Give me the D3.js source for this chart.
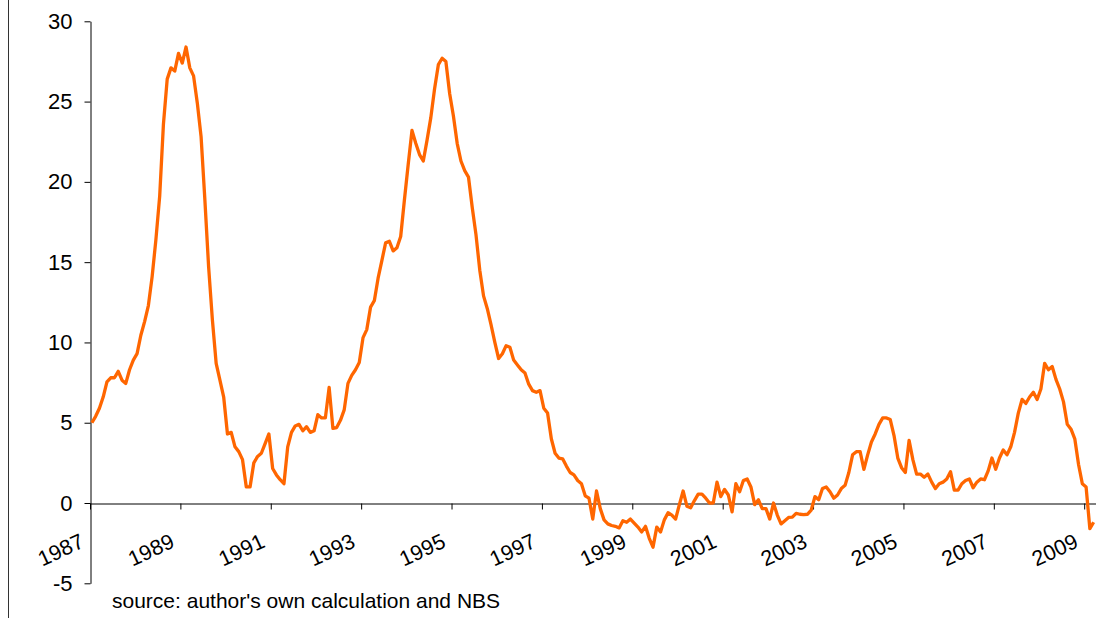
<!DOCTYPE html>
<html>
<head>
<meta charset="utf-8">
<script src="https://cdn.jsdelivr.net/npm/d3@7"></script>
<style>
    body { margin: 0; background: #fff; }
    svg { display: block; font-family: "Liberation Sans", Arial, sans-serif; }
</style>
</head>
<body>
<svg id="chart" width="1103" height="618"></svg>
<script>
// Monthly inflation (%), Jan 1987 - Mar 2009
var StartYear = 1987;
var Inflation = [
    5.0, 5.4, 5.9, 6.6, 7.55, 7.8, 7.8, 8.2, 7.65, 7.45, 8.3, 8.9,          // 1987
    9.3, 10.45, 11.3, 12.3, 14.1, 16.4, 19.1, 23.6, 26.4, 27.1, 26.9, 28.0, // 1988
    27.4, 28.4, 27.1, 26.6, 24.9, 22.8, 18.9, 14.7, 11.4, 8.7, 7.65, 6.6,   // 1989
    4.3, 4.4, 3.5, 3.2, 2.7, 1.0, 1.0, 2.5, 2.9, 3.1, 3.7, 4.3,             // 1990
    2.15, 1.75, 1.45, 1.2, 3.5, 4.4, 4.8, 4.9, 4.5, 4.75, 4.4, 4.5,         // 1991
    5.5, 5.3, 5.3, 7.2, 4.65, 4.7, 5.15, 5.8, 7.45, 7.95, 8.3, 8.75,        // 1992
    10.3, 10.8, 12.2, 12.6, 14.0, 15.1, 16.2, 16.3, 15.7, 15.9, 16.6, 18.9, // 1993
    21.1, 23.2, 22.4, 21.7, 21.3, 22.6, 24.0, 25.8, 27.3, 27.7, 27.5, 25.5, // 1994
    24.1, 22.4, 21.3, 20.7, 20.3, 18.4, 16.7, 14.5, 12.9, 12.1, 11.1, 10.0, // 1995
    9.0, 9.3, 9.8, 9.7, 8.9, 8.6, 8.3, 8.1, 7.4, 7.0, 6.9, 7.0,             // 1996
    5.9, 5.6, 4.0, 3.1, 2.8, 2.75, 2.3, 1.9, 1.75, 1.4, 1.2, 0.45,          // 1997
    0.3, -1.0, 0.75, -0.35, -1.05, -1.3, -1.4, -1.45, -1.55, -1.1, -1.2, -1.0,  // 1998
    -1.25, -1.5, -1.8, -1.45, -2.2, -2.75, -1.5, -1.8, -1.05, -0.6, -0.75, -1.0, // 1999
    -0.1, 0.75, -0.2, -0.3, 0.15, 0.55, 0.55, 0.3, 0.0, 0.0, 1.3, 0.4,      // 2000
    0.85, 0.5, -0.55, 1.2, 0.7, 1.4, 1.5, 1.0, -0.1, 0.2, -0.35, -0.35,     // 2001
    -1.0, 0.0, -0.75, -1.3, -1.1, -0.9, -0.88, -0.64, -0.7, -0.72, -0.7, -0.45, // 2002
    0.4, 0.2, 0.9, 1.0, 0.7, 0.3, 0.5, 0.9, 1.1, 1.9, 3.0, 3.2,             // 2003
    3.2, 2.1, 3.0, 3.8, 4.3, 4.9, 5.3, 5.3, 5.2, 4.2, 2.8, 2.2,             // 2004
    1.9, 3.9, 2.7, 1.8, 1.8, 1.6, 1.8, 1.3, 0.9, 1.2, 1.3, 1.5,             // 2005
    1.95, 0.8, 0.8, 1.2, 1.4, 1.5, 0.95, 1.3, 1.5, 1.45, 2.0, 2.8,          // 2006
    2.1, 2.8, 3.3, 3.0, 3.5, 4.4, 5.6, 6.45, 6.2, 6.6, 6.9, 6.45,           // 2007
    7.1, 8.7, 8.3, 8.5, 7.7, 7.1, 6.3, 4.9, 4.6, 4.0, 2.4, 1.2,             // 2008
    1.0, -1.6, -1.2                                                         // 2009
];
var YearLabels = ["1987", "1989", "1991", "1993", "1995", "1997", "1999", "2001", "2003", "2005", "2007", "2009"];
var YTicks = [-5, 0, 5, 10, 15, 20, 25, 30];
var SourceNote = "source: author's own calculation and NBS";

var SVG = d3.select("#chart");
// Left border of the frame
SVG.append("line")
    .attr("x1", 8.5).attr("x2", 8.5)
    .attr("y1", 0).attr("y2", 618)
    .attr("stroke", "#333").attr("stroke-width", 1);

// Scales: each month is one category, ticks sit between categories
var X = d3.scaleLinear().domain([0, Inflation.length]).range([90, 1095.5]);
var Y = d3.scaleLinear().domain([-5, 30]).range([583.3, 21.3]);

// Y axis
var YAxis = SVG.append("g")
    .attr("transform", "translate(90.5,0)")
    .call(d3.axisLeft(Y).tickValues(YTicks).tickSize(6).tickSizeOuter(0).tickPadding(12).tickFormat(D => String(D)));
YAxis.selectAll("text").attr("font-size", 22).attr("fill", "#000").attr("font-family", "Liberation Sans, Arial, sans-serif");
YAxis.selectAll("line, path").attr("stroke", "#000");

// X axis at zero
var TickIndex = YearLabels.map(Label => (+Label - StartYear) * 12);
var XAxis = SVG.append("g")
    .attr("transform", `translate(0,${Math.round(Y(0)) + 0.5})`)
    .call(d3.axisBottom(X).tickValues(TickIndex).tickSize(6).tickSizeOuter(0)
        .tickFormat((D, I) => YearLabels[I]));
XAxis.selectAll("line, path").attr("stroke", "#000");
XAxis.selectAll("text")
    .attr("font-size", 21.5).attr("fill", "#000")
    .attr("font-family", "Liberation Sans, Arial, sans-serif")
    .attr("x", 0).attr("y", 0).attr("dy", 0)
    .attr("text-anchor", "end")
    .attr("transform", `translate(-5,${546 - Y(0)}) rotate(-25)`);

// The series
var Line = d3.line()
    .x((D, I) => X(I + 0.5))
    .y(D => Y(D));
SVG.append("path")
    .datum(Inflation)
    .attr("d", Line)
    .attr("fill", "none")
    .attr("stroke", "#FF6600")
    .attr("stroke-width", 3.3)
    .attr("stroke-linejoin", "round");

// Source note
SVG.append("text")
    .attr("x", 112).attr("y", 608)
    .attr("font-size", 21).attr("fill", "#000")
    .text(SourceNote);
</script>
</body>
</html>
